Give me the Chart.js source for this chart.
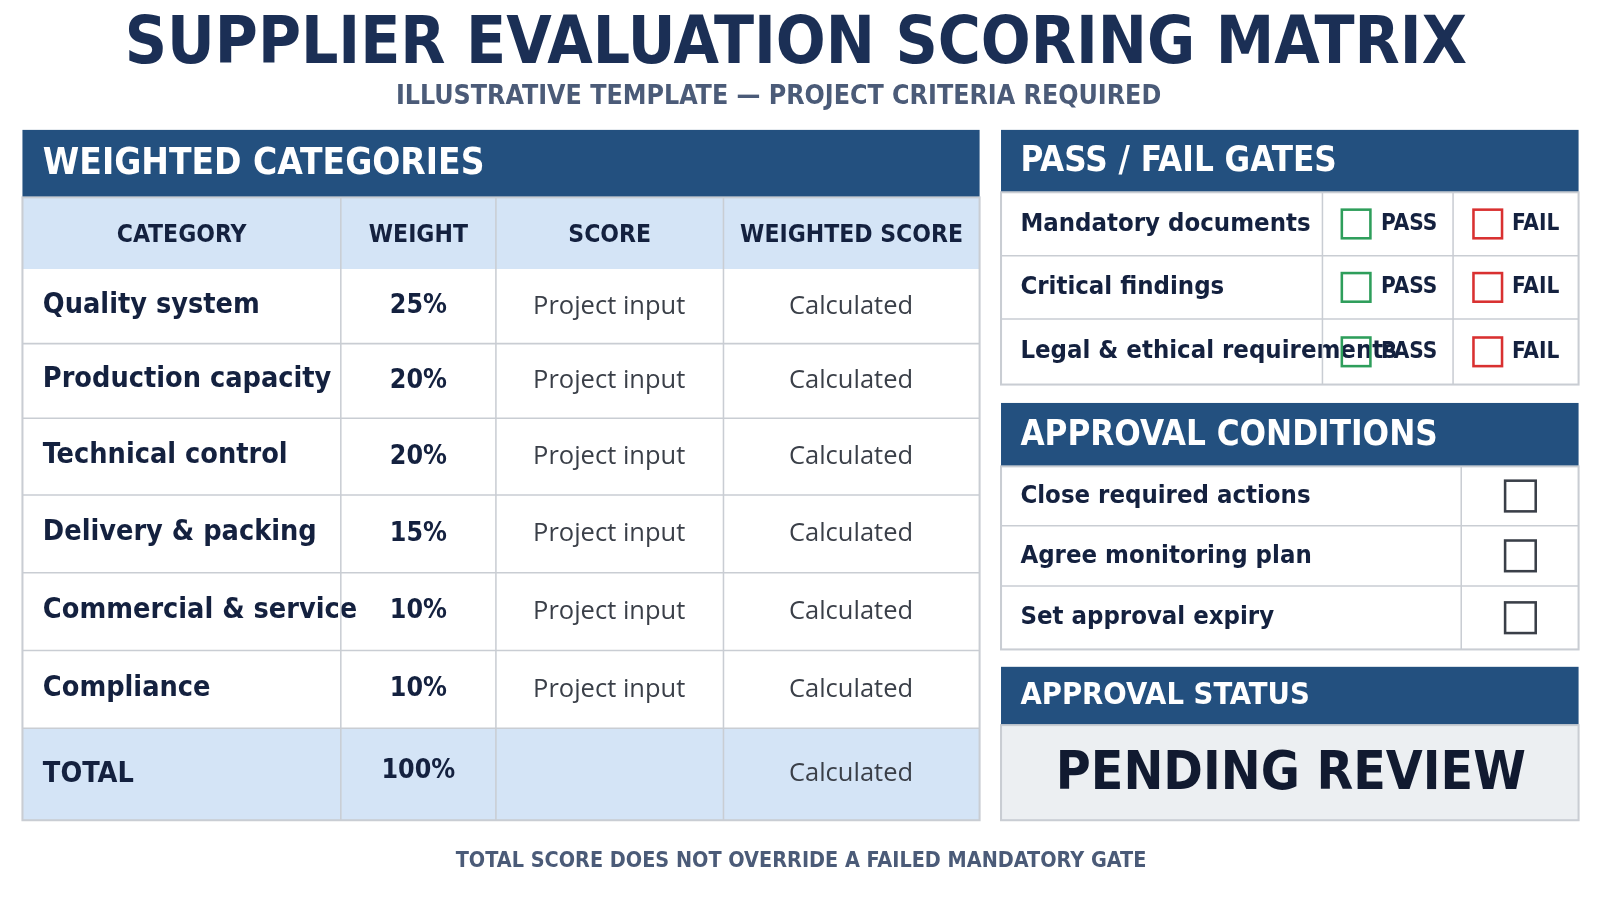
<!DOCTYPE html>
<html><head><meta charset="utf-8">
<script src="https://cdn.jsdelivr.net/npm/chart.js@4"></script>
<style>html,body{margin:0;padding:0;background:#fff;}canvas{display:block}</style>
</head><body>
<canvas id="c" width="1600" height="900"></canvas>
<script>
const title = "SUPPLIER EVALUATION SCORING MATRIX";
const subtitle = "ILLUSTRATIVE TEMPLATE — PROJECT CRITERIA REQUIRED";
const footer = "TOTAL SCORE DOES NOT OVERRIDE A FAILED MANDATORY GATE";
const columnHeaders = ["CATEGORY","WEIGHT","SCORE","WEIGHTED SCORE"];
const categories = ["Quality system","Production capacity","Technical control","Delivery & packing","Commercial & service","Compliance"];
const weights = [25,20,20,15,10,10];
const scoreText = "Project input";
const calcText = "Calculated";
const gates = ["Mandatory documents","Critical findings","Legal & ethical requirements"];
const conditions = ["Close required actions","Agree monitoring plan","Set approval expiry"];
const statusText = "PENDING REVIEW";

const NAVY="#23507f", DARK="#14213f", LIGHT="#d4e4f6", LINE="#c9cdd3";
const CF='"DejaVu Sans Condensed","Liberation Sans Narrow",sans-serif';
const RF='"Open Sans","Noto Sans",sans-serif';

function txt(ctx,t,x,y,font,color,align){ctx.font=font;ctx.fillStyle=color;ctx.textAlign=align||"left";ctx.textBaseline="middle";ctx.fillText(t,x,y);}
function box(ctx,x,y,w,h,fill,stroke,lw){if(fill){ctx.fillStyle=fill;ctx.fillRect(x,y,w,h);}if(stroke){ctx.strokeStyle=stroke;ctx.lineWidth=lw||1.5;ctx.strokeRect(x,y,w,h);}}
function line(ctx,x1,y1,x2,y2,c){ctx.strokeStyle=c||LINE;ctx.lineWidth=1.5;ctx.beginPath();ctx.moveTo(x1,y1);ctx.lineTo(x2,y2);ctx.stroke();}

const drawPlugin={id:"matrix",afterDraw(chart){
  const ctx=chart.ctx;ctx.save();
  ctx.fillStyle="#fff";ctx.fillRect(0,0,1600,900);
  ctx.scale(1600/1568,900/880);
  txt(ctx,title,780,45,"bold 64px "+CF,"#1b2f55","center");
  txt(ctx,subtitle,763,95,"bold 26px "+CF,"#4b5b78","center");
  // left panel
  const L=22,R=960;const cols=[22,334,486,709,960];
  box(ctx,L,127,R-L,66,NAVY);
  txt(ctx,"WEIGHTED CATEGORIES",42,161,"bold 36px "+CF,"#fff");
  box(ctx,L,193,R-L,70,LIGHT);
  columnHeaders.forEach((h,i)=>txt(ctx,h,(cols[i]+cols[i+1])/2,230,"bold 24px "+CF,DARK,"center"));
  const rows=[263,336,409,484,560,636,712];
  categories.forEach((c,i)=>{
    const y=(rows[i]+rows[i+1])/2;
    txt(ctx,c,42,y-1,"bold 28px "+CF,DARK);
    txt(ctx,weights[i]+"%",410,y,"bold 26px "+CF,DARK,"center");
    txt(ctx,scoreText,597,y,"25px "+RF,"#3a3f48","center");
    txt(ctx,calcText,834,y,"25px "+RF,"#3a3f48","center");
  });
  box(ctx,L,712,R-L,90,LIGHT);
  txt(ctx,"TOTAL",42,757,"bold 28px "+CF,DARK);
  txt(ctx,weights.reduce((a,b)=>a+b,0)+"%",410,754,"bold 26px "+CF,DARK,"center");
  txt(ctx,calcText,834,757,"25px "+RF,"#3a3f48","center");
  for(let i=1;i<rows.length;i++)line(ctx,L,rows[i],R,rows[i]);
  for(let i=1;i<4;i++)line(ctx,cols[i],193,cols[i],802);
  box(ctx,L,193,R-L,609,null,LINE,2);
  // pass fail
  const X0=981,X1=1547;
  box(ctx,X0,127,X1-X0,61,NAVY);
  txt(ctx,"PASS / FAIL GATES",1000,158,"bold 34px "+CF,"#fff");
  const gr=[188,250,312,376];
  gates.forEach((g,i)=>{
    const y=(gr[i]+gr[i+1])/2;
    txt(ctx,g,1000,y,"bold 25px "+CF,DARK);
    box(ctx,1315,y-14,28,28,null,"#2e9e5b",2.5);
    txt(ctx,"PASS",1381,y,"bold 22px "+CF,DARK,"center");
    box(ctx,1444,y-14,28,28,null,"#d93030",2.5);
    txt(ctx,"FAIL",1505,y,"bold 22px "+CF,DARK,"center");
    if(i>0)line(ctx,X0,gr[i],X1,gr[i]);
  });
  line(ctx,1296,188,1296,376);line(ctx,1424,188,1424,376);
  box(ctx,X0,188,X1-X0,188,null,LINE,2);
  // approval conditions
  box(ctx,X0,394,X1-X0,62,NAVY);
  txt(ctx,"APPROVAL CONDITIONS",1000,426,"bold 34px "+CF,"#fff");
  const cr=[456,514,573,635];
  conditions.forEach((c,i)=>{
    const y=(cr[i]+cr[i+1])/2;
    txt(ctx,c,1000,y,"bold 25px "+CF,DARK);
    box(ctx,1475,y-15,30,30,null,"#3a3f48",2.5);
    if(i>0)line(ctx,X0,cr[i],X1,cr[i]);
  });
  line(ctx,1432,456,1432,635);
  box(ctx,X0,456,X1-X0,179,null,LINE,2);
  // approval status
  box(ctx,X0,652,X1-X0,57,NAVY);
  txt(ctx,"APPROVAL STATUS",1000,681,"bold 30px "+CF,"#fff");
  box(ctx,X0,709,X1-X0,93,"#eceff2",LINE,2);
  txt(ctx,statusText,1265,758,"bold 52px "+CF,"#111a30","center");
  txt(ctx,footer,785,842,"bold 21px "+CF,"#4b5b78","center");
  ctx.restore();
}};

new Chart(document.getElementById("c"),{
  type:"bar",
  data:{labels:categories,datasets:[{data:weights,backgroundColor:"rgba(0,0,0,0)"}]},
  options:{responsive:false,animation:false,devicePixelRatio:1,
    plugins:{legend:{display:false},tooltip:{enabled:false}},
    scales:{x:{display:false},y:{display:false}}},
  plugins:[drawPlugin]
});
</script>
</body></html>
